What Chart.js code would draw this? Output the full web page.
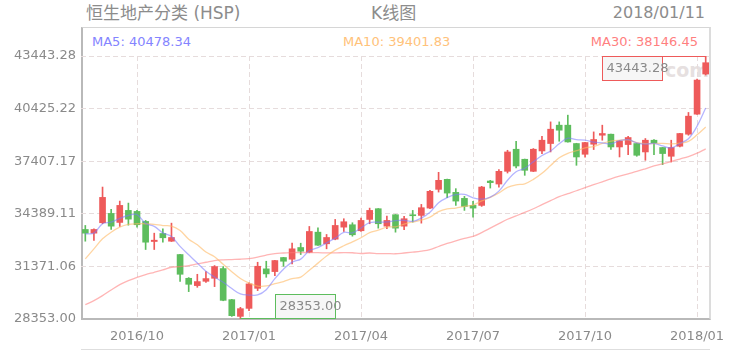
<!DOCTYPE html>
<html><head><meta charset="utf-8">
<script src="https://cdn.jsdelivr.net/npm/chart.js@4.4.0/dist/chart.umd.min.js"></script>
<style>
html,body{margin:0;padding:0;background:#fff;width:740px;height:351px;overflow:hidden;}
#wrap{position:relative;width:740px;height:351px;font-family:"DejaVu Sans","Noto Sans CJK SC",sans-serif;}
#cv{position:absolute;left:0;top:0;z-index:2}
.t{position:absolute;white-space:nowrap;line-height:1;}
#frame{position:absolute;left:81px;top:27px;width:630px;height:293px;box-sizing:border-box;border-top:1px solid #d6d6d6;border-right:2px solid #dcdcdc;border-left:2px solid #b9b9b9;border-bottom:2px solid #b9b9b9;z-index:1}
#bline{position:absolute;left:81px;top:349px;width:629px;height:0;border-top:1px solid #dedede;z-index:1}
#wm{position:absolute;left:665px;top:61px;font-size:19px;font-weight:bold;color:#e6e0e0;z-index:1;font-family:Verdana,"DejaVu Sans",sans-serif}
</style></head>
<body><div id="wrap">
<div id="frame"></div><div id="bline"></div>
<div class="t" id="wm">com</div>
<canvas id="cv" width="740" height="351"></canvas>
<div class="t" id="title" style="left:86px;top:5px;font-size:17px;color:#8c8c8c"></div>
<div class="t" id="sub" style="left:371px;top:5px;font-size:17px;color:#8c8c8c"></div>
<div class="t" id="date" style="right:35px;top:5px;font-size:16px;color:#8c8c8c"></div>
<div class="t" id="lg5" style="left:92px;top:35px;font-size:13px;color:#8484ff"></div>
<div class="t" id="lg10" style="left:343px;top:35px;font-size:13px;color:#ffc27a"></div>
<div class="t" id="lg30" style="right:42px;top:35px;font-size:13px;color:#ff7f7f"></div>
</div>
<script>
const titleText = '恒生地产分类 (HSP)';
const subText = 'K线图';
const dateText = '2018/01/11';
const legendNames = ['MA5', 'MA10', 'MA30'];
const legendValues = ['40478.34', '39401.83', '38146.45'];

const categories = ['2016/08/22','2016/08/29','2016/09/05','2016/09/12','2016/09/19','2016/09/26','2016/10/03','2016/10/10','2016/10/17','2016/10/24','2016/10/31','2016/11/07','2016/11/14','2016/11/21','2016/11/28','2016/12/05','2016/12/12','2016/12/19','2016/12/26','2017/01/02','2017/01/09','2017/01/16','2017/01/23','2017/01/30','2017/02/06','2017/02/13','2017/02/20','2017/02/27','2017/03/06','2017/03/13','2017/03/20','2017/03/27','2017/04/03','2017/04/10','2017/04/17','2017/04/24','2017/05/01','2017/05/08','2017/05/15','2017/05/22','2017/05/29','2017/06/05','2017/06/12','2017/06/19','2017/06/26','2017/07/03','2017/07/10','2017/07/17','2017/07/24','2017/07/31','2017/08/07','2017/08/14','2017/08/21','2017/08/28','2017/09/04','2017/09/11','2017/09/18','2017/09/25','2017/10/02','2017/10/09','2017/10/16','2017/10/23','2017/10/30','2017/11/06','2017/11/13','2017/11/20','2017/11/27','2017/12/04','2017/12/11','2017/12/18','2017/12/25','2018/01/01','2018/01/08'];

const openVals = [33490,33278,33876,34411,33893,34584,34526,33951,32800,33260,32817,32052,30689,30269,30516,30689,31247,29463,28503,28963,30113,31230,31074,31880,31782,32455,32185,33335,32668,32932,33623,33761,33416,34066,34681,33680,34336,33680,34313,34296,34716,35792,36367,35619,35274,34871,34871,36269,36097,36827,38093,37518,36827,37995,38421,39474,39474,38421,37805,38381,38898,38956,38225,38363,38421,37938,38611,38191,37690,38265,38956,40106,42408];
const closeVals = [33278,33490,35331,33680,34871,34083,33761,32760,32875,33013,33030,30919,30344,30499,30672,31362,29423,28543,28946,30367,31379,30942,31707,31667,32380,32242,33375,32587,33030,33721,33933,33186,34008,34584,33818,34008,33565,34106,34278,34739,35677,36309,35579,35119,34814,34716,35924,36177,36827,37938,37132,36885,38093,38611,39243,39186,38513,37650,38478,38651,38996,38225,38570,38766,37748,38611,38455,37846,38191,38996,39991,42062,43058];
const highVals = [33721,33520,35924,34641,35119,35004,34584,34008,33278,33531,33853,32060,30729,30919,31074,31419,31362,29480,29021,30425,31609,31667,31720,31890,32702,32702,33663,33588,33203,34066,34106,33876,34140,34716,34690,34256,34345,34238,34584,34929,35734,36770,36380,35832,35389,35101,35964,36309,36925,38035,38553,37530,38133,38841,39663,39663,40049,38435,38495,39088,39474,38965,38585,38841,38435,38708,38651,38200,38611,39010,40204,42120,43443.28];
const lowVals = [32817,32858,33818,33490,33663,33737,33622,32340,32340,32760,32800,30516,29924,30171,30459,30211,29400,28503,28353.00,28830,29981,30746,30844,31379,31517,32052,32150,32570,32380,32898,33375,33105,33375,33818,33565,33531,33335,33473,33910,33853,34681,35636,35314,34871,34584,34198,34814,35866,35924,36729,37017,36597,36810,37846,37938,38553,38500,37172,37640,38076,38611,38076,37650,37788,37690,37460,37788,37213,37362,38225,38898,40090,42350];

const ma5 = [33243,33278,33818,33910,34130,34291,34345,33831,33670,33298,33088,32519,32036,31561,31093,30759,30460,30100,29789,29728,29732,30035,30668,31212,31615,31788,32274,32450,32723,32991,33329,33291,33575,33886,33906,33921,33997,34016,33955,34139,34473,35022,35316,35484,35499,35307,35230,35350,35692,36316,36800,36992,37375,37732,37993,38404,38729,38641,38614,38496,38458,38400,38584,38642,38461,38384,38430,38285,38170,38420,38696,39417,40460];
const ma10 = [31805,32380,32955,33335,33623,33778,33818,33818,33778,33714,33689,33432,32934,32615,32196,31923,31490,31068,30675,30410,30245,30248,30384,30501,30672,30760,31155,31559,31968,32303,32558,32783,33013,33305,33448,33625,33644,33796,33921,34022,34197,34509,34666,34720,34819,34890,35126,35333,35588,35908,36053,36111,36362,36712,37155,37602,37860,38008,38173,38244,38431,38565,38612,38628,38478,38421,38415,38435,38406,38440,38540,38924,39372];
const ma30 = [29176,29406,29694,30021,30326,30556,30746,30902,31034,31172,31322,31362,31419,31517,31609,31707,31747,31765,31782,31822,31908,32023,32110,32139,32167,32167,32167,32156,32150,32143,32164,32154,32110,32140,32105,32103,32096,32141,32188,32245,32333,32513,32688,32842,32980,33092,33308,33563,33825,34078,34270,34468,34680,34912,35141,35372,35543,35712,35894,36058,36227,36395,36547,36686,36817,36971,37134,37258,37389,37531,37675,37866,38116];

const yTicks = [28353.00, 31371.06, 34389.11, 37407.17, 40425.22, 43443.28];
const xTickLabels = ['2016/10', '2017/01', '2017/04', '2017/07', '2017/10', '2018/01'];

// header texts
document.getElementById('title').textContent = titleText;
document.getElementById('sub').textContent = subText;
document.getElementById('date').textContent = dateText;
document.getElementById('lg5').textContent = legendNames[0] + ': ' + legendValues[0];
document.getElementById('lg10').textContent = legendNames[1] + ': ' + legendValues[1];
document.getElementById('lg30').textContent = legendNames[2] + ': ' + legendValues[2];

const FONT = '"DejaVu Sans","Noto Sans CJK SC",sans-serif';
const UP = '#ee5a5a', DOWN = '#5dbd5d';
const GRID = '#e6dcdc';

// index of the first category of each labelled month
const tickIndex = {};
xTickLabels.forEach(lbl => {
  const idx = categories.findIndex(c => c.startsWith(lbl));
  if (idx >= 0) tickIndex[idx] = lbl;
});

const candleColors = categories.map((c, i) => closeVals[i] >= openVals[i] ? UP : DOWN);

const markerPlugin = {
  id: 'markers',
  afterDatasetsDraw(chart) {
    const {ctx, scales: {x, y}} = chart;
    const hi = Math.max(...highVals), lo = Math.min(...lowVals);
    const iHi = highVals.indexOf(hi), iLo = lowVals.indexOf(lo);
    ctx.save();
    ctx.font = '13px ' + FONT;
    ctx.textBaseline = 'middle';
    ctx.lineWidth = 1;
    // max marker
    let px = x.getPixelForValue(iHi), py = Math.round(y.getPixelForValue(hi)) + 0.5;
    let bx = Math.round(px - 104) + 0.5;
    ctx.fillStyle = 'rgba(246,246,246,0.95)';
    ctx.fillRect(bx, py, 60, 24);
    ctx.strokeStyle = UP;
    ctx.strokeRect(bx, py, 60, 24);
    ctx.beginPath(); ctx.moveTo(bx + 60, py); ctx.lineTo(px, py); ctx.stroke();
    ctx.fillStyle = '#8a8a8a';
    ctx.fillText(hi.toFixed(2), bx + 4, py + 12.5);
    // min marker
    px = x.getPixelForValue(iLo); py = Math.round(y.getPixelForValue(lo)) - 0.5;
    bx = Math.round(px + 35) + 0.5;
    ctx.fillStyle = 'rgba(246,246,246,0.95)';
    ctx.fillRect(bx, py - 24, 60, 24);
    ctx.strokeStyle = DOWN;
    ctx.strokeRect(bx, py - 24, 60, 24);
    ctx.beginPath(); ctx.moveTo(px, py); ctx.lineTo(bx, py); ctx.stroke();
    ctx.fillStyle = '#8a8a8a';
    ctx.fillText(lo.toFixed(2), bx + 4, py - 11.5);
    ctx.restore();
  }
};

new Chart(document.getElementById('cv'), {
  data: {
    labels: categories,
    datasets: [
      { type: 'line', label: 'MA5', data: ma5, borderColor: 'rgba(120,120,255,0.55)', borderWidth: 1.3, pointRadius: 0, tension: 0.35, order: 0 },
      { type: 'line', label: 'MA10', data: ma10, borderColor: 'rgba(255,185,100,0.6)', borderWidth: 1.3, pointRadius: 0, tension: 0.35, order: 0 },
      { type: 'line', label: 'MA30', data: ma30, borderColor: 'rgba(255,120,120,0.55)', borderWidth: 1.3, pointRadius: 0, tension: 0.35, order: 0 },
      { type: 'bar', label: 'body', data: categories.map((c, i) => [openVals[i], closeVals[i]]), backgroundColor: candleColors, barThickness: 6, minBarLength: 1, grouped: false, borderWidth: 0, order: 1 },
      { type: 'bar', label: 'wick', data: categories.map((c, i) => [lowVals[i], highVals[i]]), backgroundColor: candleColors, barThickness: 1, minBarLength: 1, grouped: false, borderWidth: 0, order: 2 }
    ]
  },
  options: {
    responsive: false,
    animation: false,
    events: [],
    layout: { padding: { top: 56, right: 30, left: 0, bottom: 0 } },
    plugins: { legend: { display: false }, tooltip: { enabled: false }, title: { display: false } },
    scales: {
      x: {
        type: 'category', offset: true,
        grid: { offset: false, drawTicks: false, lineWidth: 1, color: ctx => (ctx.index in tickIndex) ? GRID : 'rgba(0,0,0,0)' },
        border: { display: false, dash: [5, 3] },
        ticks: { autoSkip: false, maxRotation: 0, padding: 10, color: '#8a8a8a', font: { family: FONT, size: 13 },
          callback: (v, i) => tickIndex[i] || '' },
        afterFit: s => { s.height = 32; }
      },
      y: {
        type: 'linear', min: yTicks[0], max: yTicks[yTicks.length - 1],
        afterBuildTicks: s => { s.ticks = yTicks.map(v => ({ value: v })); },
        grid: { drawTicks: false, lineWidth: 1, color: ctx => (ctx.tick && ctx.tick.value === yTicks[0]) ? 'rgba(0,0,0,0)' : GRID },
        border: { display: false, dash: [5, 3] },
        ticks: { padding: 5, color: '#8a8a8a', font: { family: FONT, size: 13 }, callback: v => Number(v).toFixed(2) },
        afterFit: s => { s.width = 81; }
      }
    }
  },
  plugins: [markerPlugin]
});
</script>
</body></html>
